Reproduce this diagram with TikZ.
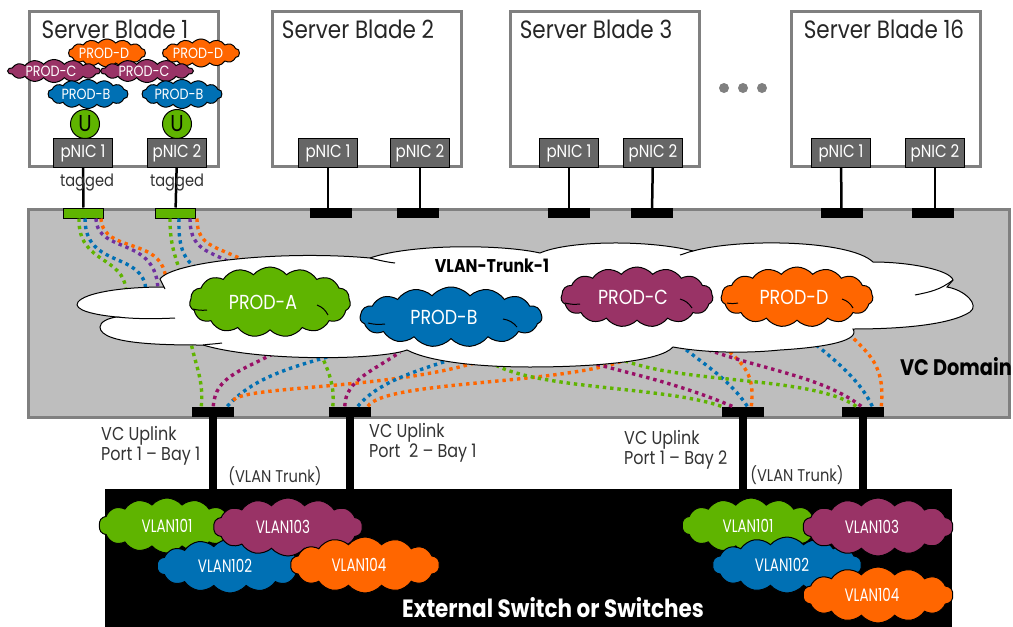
\documentclass[tikz,border=0pt]{standalone}
\usepackage{fontspec}
\setmainfont[FakeStretch=0.86]{Poppins}
\newfontfamily\narrowfont[FakeStretch=0.75]{Poppins}
\usetikzlibrary{shapes.symbols}
\definecolor{prodgreen}{HTML}{5FB400}
\definecolor{prodblue}{HTML}{0070B4}
\definecolor{prodplum}{HTML}{993366}
\definecolor{prodorange}{HTML}{FF6600}
\definecolor{dotmagenta}{HTML}{990F66}
\definecolor{dotviolet}{HTML}{7030A0}
\definecolor{framegray}{HTML}{808080}
\definecolor{domaingray}{HTML}{BEBEBE}
\definecolor{nicgray}{HTML}{666666}
\tikzset{
  bladebox/.style={draw=framegray,line width=3.5pt,fill=white,inner sep=0pt,minimum width=189pt,minimum height=155pt},
  bladetext/.style={font=\fontsize{25}{25}\selectfont,text=black!85},
  nicbox/.style={draw=black,line width=1pt,fill=nicgray,text=white,inner sep=0pt,minimum width=59pt,minimum height=29pt,font=\fontsize{17.5}{18}\selectfont},
  portbox/.style={fill=black,inner sep=0pt,minimum width=42pt,minimum height=10pt},
  tagbox/.style={draw=black,line width=1pt,fill=prodgreen,inner sep=0pt,minimum width=40pt,minimum height=10pt},
  smalltext/.style={font=\fontsize{17}{20}\selectfont,text=black!80,align=left,inner sep=0pt},
  linktext/.style={smalltext,font=\fontsize{18.6}{20}\selectfont,anchor=west},
  boldtext/.style={font=\fontsize{18.4}{19}\bfseries\selectfont,text=black,inner sep=0pt},
  puffy/.style={cloud,cloud ignores aspect,cloud puffs=14,cloud puff arc=100,draw=black,line width=1pt,inner sep=0pt,text=white},
  smallcloud/.style={puffy,font=\fontsize{14.8}{15}\selectfont},
  bigcloud/.style={puffy,cloud puffs=15,font=\fontsize{20.3}{21}\selectfont},
  vlancloud/.style={puffy,font=\narrowfont\fontsize{18}{18}\selectfont},
  dotted line/.style={line width=3.4pt,dash pattern=on 3.4pt off 3.9pt},
  dotgreen/.style={dotted line,draw=prodgreen},
  dotblue/.style={dotted line,draw=prodblue},
  dotplum/.style={dotted line,draw=dotmagenta},
  dotorange/.style={dotted line,draw=prodorange},
  dotviolet/.style={dotted line,draw=dotviolet}
}
\begin{document}
\begin{tikzpicture}[x=1pt,y=-1pt]
  \useasboundingbox (0,0) rectangle (1013,627);
  % blades
  \draw
    (124,89) node[bladebox] (blade1){}
    (367,89) node[bladebox] (blade2){}
    (605,89) node[bladebox] (blade3){}
    (886,89) node[bladebox] (blade16){};
  \draw
    (115,29) node[bladetext] (name1){Server Blade 1}
    (358,29) node[bladetext] (name2){Server Blade 2}
    (596,29) node[bladetext] (name3){Server Blade 3}
    (884,29) node[bladetext] (name16){Server Blade 16};
  \fill[framegray]
    (724,88) circle (5) (743,88) circle (5) (762,88) circle (5);
  % domain
  \node[draw=framegray,line width=3pt,fill=domaingray,inner sep=0pt,minimum width=981pt,minimum height=208pt] (domain) at (519,313) {};
  % nics
  \draw
    (83,153) node[nicbox] (nic11){pNIC 1}
    (177,153) node[nicbox] (nic12){pNIC 2}
    (328,153) node[nicbox] (nic21){pNIC 1}
    (420,153) node[nicbox] (nic22){pNIC 2}
    (569,153) node[nicbox] (nic31){pNIC 1}
    (653,153) node[nicbox] (nic32){pNIC 2}
    (841,153) node[nicbox] (nic41){pNIC 1}
    (935,153) node[nicbox] (nic42){pNIC 2};
  % ports on top of the domain
  \draw
    (83.5,213) node[tagbox] (port11){}
    (175.5,213) node[tagbox] (port12){}
    (331,213) node[portbox] (port21){}
    (418,213) node[portbox] (port22){}
    (569,213) node[portbox] (port31){}
    (652,213) node[portbox] (port32){}
    (841.5,213) node[portbox] (port41){}
    (933,213) node[portbox] (port42){};
  \draw
    (212.5,411.5) node[portbox] (up1){}
    (350,411.5) node[portbox] (up2){}
    (742.5,411.5) node[portbox] (up3){}
    (862.5,411.5) node[portbox] (up4){};
  \begin{scope}[line width=2.5pt]
    \draw (nic11) to (port11);
    \draw (nic12) to (port12);
    \draw (nic21) to (nic21 |- port21.north);
    \draw (nic22) to (nic22 |- port22.north);
    \draw (nic31) to (port31);
    \draw (nic32) to (port32);
    \draw (nic41) to (port41);
    \draw (nic42) to (nic42 |- port42.north);
  \end{scope}
  \draw
    (87,183) node[smalltext] (tag1){tagged}
    (177,183) node[smalltext] (tag2){tagged};
  % ends of the dotted lines, hidden under the trunk cloud
  \coordinate (ta1) at (126,292);
  \coordinate (ta2) at (146,292);
  \coordinate (ta3) at (158,292);
  \coordinate (ta4) at (166,282);
  \coordinate (ta5) at (181,275);
  \coordinate (ta6) at (202,272);
  \coordinate (ta7) at (238,268);
  \coordinate (ta8) at (258,268);
  \coordinate (bo1) at (190,338);
  \coordinate (bo2) at (280,350);
  \coordinate (bo3) at (345,352);
  \coordinate (bo4) at (490,358);
  \coordinate (bo5) at (320,352);
  \coordinate (bo6) at (400,352);
  \coordinate (bo7) at (465,355);
  \coordinate (bo8) at (630,358);
  \coordinate (bo9) at (485,358);
  \coordinate (bo10) at (575,358);
  \coordinate (bo11) at (680,345);
  \coordinate (bo12) at (722,345);
  \coordinate (bo13) at (618,358);
  \coordinate (bo14) at (695,345);
  \coordinate (bo15) at (810,340);
  \coordinate (bo16) at (845,330);
  % dotted lines, upper side
  \draw[dotgreen] ([xshift=16pt]port11.south west) .. controls (78,265) and (125,255) .. (ta1);
  \draw[dotblue] ([xshift=22pt]port11.south west) .. controls (85,270) and (145,250) .. (ta2);
  \draw[dotorange] ([xshift=38pt]port11.south west) .. controls (103,255) and (165,235) .. (ta4);
  \draw[dotviolet] ([xshift=33pt]port11.south west) .. controls (97,255) and (158,235) .. (ta3);
  \draw[dotgreen] ([xshift=15pt]port12.south west) .. controls (170,245) and (175,255) .. (ta5);
  \draw[dotblue] ([xshift=24pt]port12.south west) .. controls (178,250) and (185,262) .. (ta6);
  \draw[dotviolet] ([xshift=35pt]port12.south west) .. controls (190,255) and (215,250) .. (ta7);
  \draw[dotorange] ([xshift=42pt]port12.south west) .. controls (197,250) and (220,245) .. (ta8);
  % dotted lines, lower side
  \draw[dotgreen] ([xshift=10pt]up1.north west) .. controls (204,380) and (195,365) .. (bo1);
  \draw[dotplum] ([xshift=22pt]up1.north west) .. controls (215,375) and (245,370) .. (bo2);
  \draw[dotblue] ([xshift=36pt]up1.north west) .. controls (255,375) and (300,365) .. (bo3);
  \draw[dotorange] ([xshift=42pt,yshift=6pt]up1.north west) .. controls (245,385) and (400,390) .. (bo4);
  \draw[dotgreen] ([xshift=4pt]up2.north west) .. controls (335,385) and (328,370) .. (bo5);
  \draw[dotplum] ([xshift=16pt]up2.north west) .. controls (345,380) and (375,370) .. (bo6);
  \draw[dotblue] ([xshift=29pt]up2.north west) .. controls (380,380) and (420,370) .. (bo7);
  \draw[dotorange] ([xshift=39pt]up2.north west) .. controls (385,380) and (570,385) .. (bo8);
  \draw[dotgreen] (up3.north west) .. controls (660,385) and (520,390) .. (bo9);
  \draw[dotplum] ([xshift=11pt]up3.north west) .. controls (670,380) and (620,372) .. (bo10);
  \draw[dotblue] ([xshift=26pt]up3.north west) .. controls (730,380) and (705,365) .. (bo11);
  \draw[dotorange] ([xshift=30pt]up3.north west) .. controls (755,375) and (745,365) .. (bo12);
  \draw[dotgreen] ([xshift=15pt]up4.north west) .. controls (810,375) and (680,385) .. (bo13);
  \draw[dotplum] ([xshift=20pt]up4.north west) .. controls (820,375) and (760,370) .. (bo14);
  \draw[dotblue] ([xshift=31pt]up4.north west) .. controls (860,380) and (835,360) .. (bo15);
  \draw[dotorange] ([xshift=40pt]up4.north west) .. controls (885,365) and (870,355) .. (bo16);
  % trunk cloud
  \draw[fill=white,line width=1pt]
    (78,302) .. controls (85,293) and (120,287) .. (164,287)
    -- (160,279) .. controls (172,262) and (280,250) .. (370,258)
    .. controls (410,244) and (500,244) .. (540,253)
    .. controls (570,240) and (650,240) .. (693,251)
    .. controls (740,238) and (850,240) .. (873,262)
    .. controls (910,262) and (950,270) .. (953,280)
    -- (947,287) .. controls (965,290) and (980,305) .. (970,312)
    .. controls (950,325) and (900,329) .. (853,329)
    .. controls (860,340) and (830,347) .. (780,350)
    .. controls (740,354) and (700,352) .. (673,347)
    .. controls (660,362) and (590,367) .. (530,367)
    .. controls (480,367) and (430,362) .. (407,350)
    .. controls (380,360) and (260,362) .. (203,345)
    .. controls (170,345) and (100,345) .. (100,327)
    .. controls (100,322) and (108,318) .. (117,317)
    .. controls (95,315) and (72,310) .. (78,302) -- cycle;
  \draw[line width=1pt]
    (164,287) -- (165,289)
    (117,317) .. controls (135,319) and (155,319) .. (175,318)
    (203,345) .. controls (210,344) and (215,344) .. (222,343)
    (370,258) .. controls (378,260) and (386,262) .. (395,263)
    (693,251) .. controls (688,252) and (684,254) .. (680,255)
    (953,280) .. controls (940,290) and (930,292) .. (915,295);
  \node[boldtext] (trunk) at (492,266) {VLAN-Trunk-1};
  % prod clouds in the trunk
  \draw
    (270,302) node[bigcloud,fill=prodgreen,minimum width=161pt,minimum height=70pt] (proda){\hspace*{-14pt}PROD-A}
    (451,317) node[bigcloud,fill=prodblue,minimum width=182pt,minimum height=60pt] (prodb){\hspace*{-14pt}PROD-B}
    (637,297) node[bigcloud,fill=prodplum,minimum width=152pt,minimum height=60pt] (prodc){\hspace*{-8pt}PROD-C}
    (797,297) node[bigcloud,fill=prodorange,minimum width=152pt,minimum height=60pt] (prodd){\hspace*{-6pt}PROD-D};
  \draw[line width=1pt]
    ([shift={(-77,7)}]proda.center) to[bend right=10] ([shift={(-63,8)}]proda.center)
    ([shift={(47,3)}]proda.center) to[bend left=20] ([shift={(58,13)}]proda.center)
    ([shift={(-83,6)}]prodb.center) to[bend right=10] ([shift={(-66,7)}]prodb.center)
    ([shift={(52,2)}]prodb.center) to[bend left=20] ([shift={(66,10)}]prodb.center)
    ([shift={(-72,6)}]prodc.center) to[bend right=10] ([shift={(-57,7)}]prodc.center)
    ([shift={(43,2)}]prodc.center) to[bend left=20] ([shift={(55,11)}]prodc.center)
    ([shift={(-70,6)}]prodd.center) to[bend right=10] ([shift={(-59,6)}]prodd.center)
    ([shift={(45,2)}]prodd.center) to[bend left=20] ([shift={(56,11)}]prodd.center);
  % prod clouds in blade 1
  \draw
    (107,53) node[smallcloud,fill=prodorange,minimum width=77pt,minimum height=28pt] (d1){\hspace*{-6pt}PROD-D}
    (201,53) node[smallcloud,fill=prodorange,minimum width=77pt,minimum height=28pt] (d2){\hspace*{-6pt}PROD-D}
    (54,71) node[smallcloud,fill=prodplum,minimum width=92pt,minimum height=23pt] (c1){\hspace*{-6pt}PROD-C}
    (147,71) node[smallcloud,fill=prodplum,minimum width=92pt,minimum height=23pt] (c2){\hspace*{-6pt}PROD-C}
    (88,94) node[smallcloud,fill=prodblue,minimum width=80pt,minimum height=29pt] (b1){\hspace*{-4pt}PROD-B}
    (182,94) node[smallcloud,fill=prodblue,minimum width=80pt,minimum height=29pt] (b2){\hspace*{-6pt}PROD-B};
  \draw
    (85,124) node[circle,draw=black,line width=1pt,fill=prodgreen,inner sep=0pt,minimum size=29pt,font=\fontsize{23}{23}\selectfont] (u1){U}
    (177,124) node[circle,draw=black,line width=1pt,fill=prodgreen,inner sep=0pt,minimum size=29pt,font=\fontsize{23}{23}\selectfont] (u2){U};
  \node[boldtext,font=\fontsize{22.5}{23}\bfseries\selectfont,anchor=east] (vcd) at (1012,367) {VC Domain};
  % switch
  \node[fill=black,inner sep=0pt,minimum width=847pt,minimum height=138pt] (switch) at (528.5,558) {};
  \begin{scope}[line width=8pt]
    \draw (up1.south) to (up1.south |- switch.north);
    \draw (up2.south) to (up2.south |- switch.north);
    \draw (up3.south) to (up3.south |- switch.north);
    \draw (up4.south) to (up4.south |- switch.north);
  \end{scope}
  \draw
    (101,445.5) node[linktext] (link1){VC Uplink\\Port 1 – Bay 1}
    (369,443) node[linktext] (link2){VC Uplink\\Port\ \ 2 – Bay 1}
    (624,450) node[linktext] (link3){VC Uplink\\Port 1 – Bay 2}
    (275,476) node[smalltext] (vt1){(VLAN Trunk)}
    (797,475) node[smalltext] (vt2){(VLAN Trunk)};
  % vlan clouds
  \draw
    (167,525.5) node[vlancloud,fill=prodgreen,minimum width=136pt,minimum height=55pt] (v1a){VLAN101}
    (230,566) node[vlancloud,fill=prodblue,minimum width=146pt,minimum height=54pt] (v2a){\hspace*{-10pt}VLAN102}
    (288,527) node[vlancloud,fill=prodplum,minimum width=149pt,minimum height=58pt] (v3a){\hspace*{-10pt}VLAN103}
    (365,565) node[vlancloud,fill=prodorange,minimum width=149pt,minimum height=56pt] (v4a){\hspace*{-12pt}VLAN104}
    (751,525.5) node[vlancloud,fill=prodgreen,minimum width=138pt,minimum height=55pt] (v1b){\hspace*{-6pt}VLAN101}
    (787,565) node[vlancloud,fill=prodblue,minimum width=149pt,minimum height=56pt] (v2b){\hspace*{-10pt}VLAN102}
    (878,527) node[vlancloud,fill=prodplum,minimum width=150pt,minimum height=58pt] (v3b){\hspace*{-12pt}VLAN103}
    (878,595) node[vlancloud,fill=prodorange,minimum width=150pt,minimum height=56pt] (v4b){\hspace*{-12pt}VLAN104};
  \node[boldtext,text=white,font=\fontsize{25}{25}\bfseries\selectfont] (swname) at (553,608) {External Switch or Switches};
\end{tikzpicture}
\end{document}
